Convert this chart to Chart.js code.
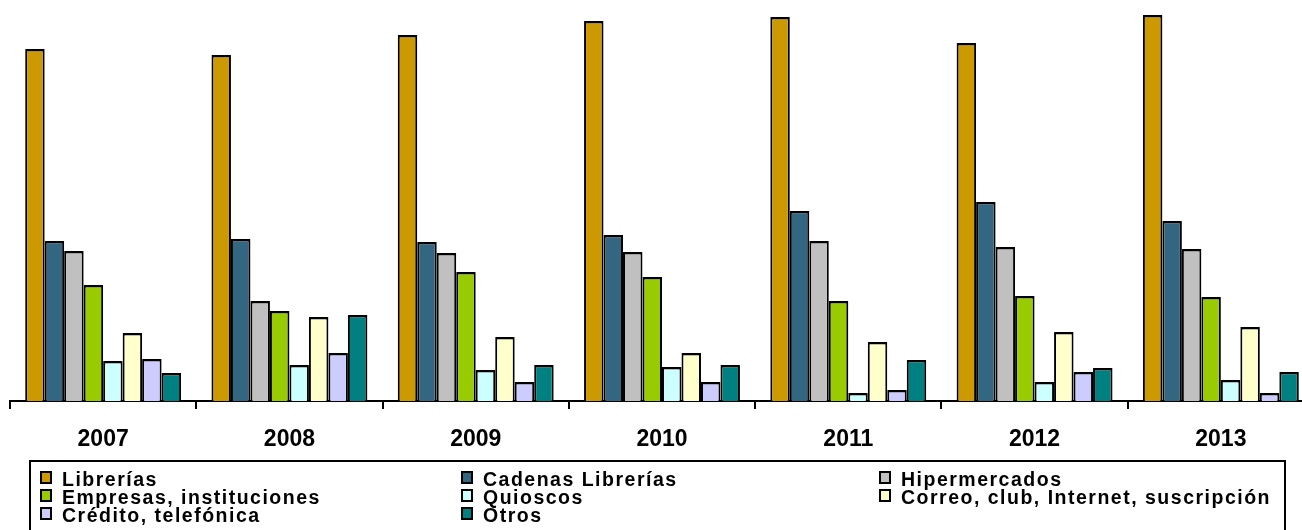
<!DOCTYPE html>
<html>
<head>
<meta charset="utf-8">
<script src="https://cdn.jsdelivr.net/npm/chart.js@4"></script>
<style>
  html,body{margin:0;padding:0;background:#fff;overflow:hidden;width:1302px;height:530px}
  #wrap{position:absolute;left:0;top:0;width:1330px;height:461px}
  #legend{position:absolute;left:29px;top:460px;width:1257px;height:90px;border:2px solid #000;
    font:bold 19.5px "Liberation Sans",Arial,sans-serif;letter-spacing:1.5px;line-height:18px;
    display:grid;grid-template-columns:421px 418px 1fr;grid-auto-rows:18px;align-content:start;
    padding:7.5px 0 0 9px;box-sizing:border-box;color:#000}
  #legend .it{white-space:nowrap;height:18px;overflow:visible}
  #legend .sw{display:inline-block;width:12px;height:13px;border:2px solid #000;box-sizing:border-box;
    vertical-align:top;margin-top:1px;margin-right:10px}
</style>
</head>
<body>
<div id="wrap"><canvas id="c"></canvas></div>
<div id="legend"></div>
<script>
// years on the x axis
const years=['2007','2008','2009','2010','2011','2012','2013'];
// series (share)
const librerias=[35.2,34.6,36.6,38.0,38.4,35.8,38.6];
const cadenas=[16.0,16.2,15.9,16.6,19.0,19.9,18.0];
const hiper=[15.0,10.0,14.8,14.9,16.0,15.4,15.2];
const empresas=[11.6,9.0,12.9,12.4,10.0,10.5,10.4];
const quioscos=[4.0,3.6,3.1,3.4,0.8,1.9,2.1];
const correo=[6.8,8.4,6.4,4.8,5.9,6.9,7.4];
const credito=[4.2,4.8,1.9,1.9,1.1,2.9,0.8];
const otros=[2.8,8.6,3.6,3.6,4.1,3.3,2.9];

const series=[
  ['Librerías',librerias,'#CC9900'],
  ['Cadenas Librerías',cadenas,'#336680'],
  ['Hipermercados',hiper,'#C0C0C0'],
  ['Empresas, instituciones',empresas,'#99CC00'],
  ['Quioscos',quioscos,'#CCFFFF'],
  ['Correo, club, Internet, suscripción',correo,'#FFFFCC'],
  ['Crédito, telefónica',credito,'#CCCCFF'],
  ['Otros',otros,'#008080']
];

const cv=document.getElementById('c');
cv.width=1330; cv.height=461; cv.style.width='1330px'; cv.style.height='461px';

const chart=new Chart(cv,{
  type:'bar',
  data:{labels:years,datasets:series.map(([l,d,col])=>({label:l,data:d,backgroundColor:col,borderColor:'#000',
    borderWidth:{top:2.5,left:2,right:2,bottom:0},borderSkipped:false,categoryPercentage:0.837,barPercentage:1}))},
  options:{
    responsive:false,animation:false,devicePixelRatio:1,
    layout:{padding:{left:10,right:16,top:1,bottom:0}},
    plugins:{legend:{display:false},tooltip:{enabled:false}},
    scales:{
      y:{display:false,min:0,max:40},
      x:{
        grid:{drawOnChartArea:false,drawTicks:true,tickLength:8,color:'#000',lineWidth:2,offset:true},
        border:{display:true,color:'#000',width:2},
        ticks:{color:'#000',padding:17,font:{family:'"Liberation Sans", Arial, sans-serif',size:23,weight:'bold'}},
        afterFit:s=>{s.height=60;}
      }
    }
  }
});

// custom three-column legend built from the chart's datasets
const lg=document.getElementById('legend');
lg.innerHTML=chart.data.datasets.map(ds=>
  `<div class="it"><span class="sw" style="background:${ds.backgroundColor}"></span>${ds.label}</div>`).join('');
</script>
</body>
</html>
